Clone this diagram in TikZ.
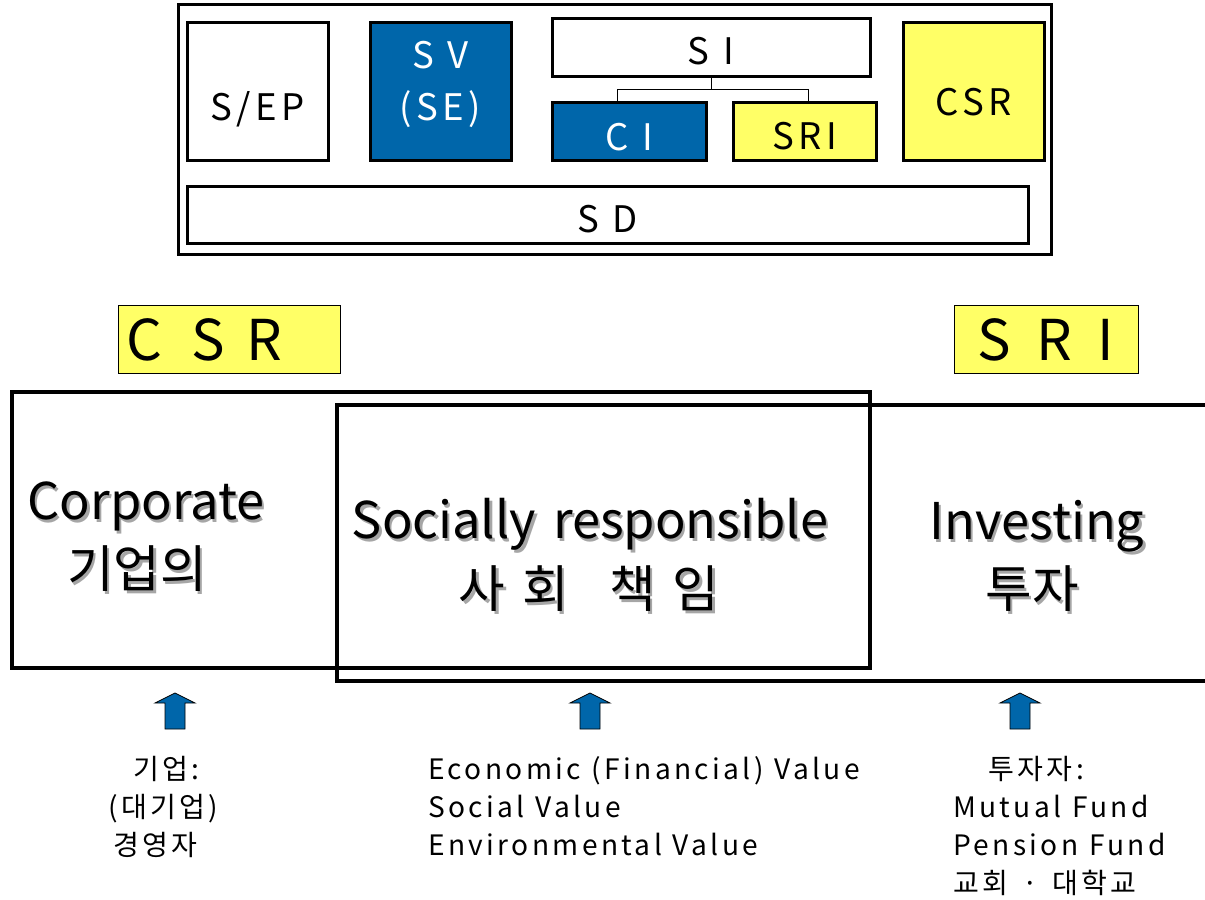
\documentclass[tikz,border=0pt]{standalone}
\usepackage{fontspec}
\setmainfont{Noto Sans CJK KR}[WordSpace=1.5]
\newfontfamily\widefont{Noto Sans CJK KR}[LetterSpace=12,WordSpace=1.1]
\newfontfamily\labelfont{Noto Sans CJK KR}[LetterSpace=4,WordSpace=1.7]
\definecolor{sblue}{RGB}{0,102,170}
\definecolor{syellow}{RGB}{255,255,102}
\begin{document}
\begin{tikzpicture}[
    sbox/.style={draw, line width=0.075cm, inner sep=0pt, align=center,
      text height=24.5pt, text depth=0pt,
      font=\widefont\fontsize{26}{37}\selectfont},
    labelbox/.style={draw, line width=0.025cm, fill=syellow,
      font=\labelfont\fontsize{40}{48}\selectfont},
    bigtext/.style={anchor=base, inner sep=0pt, font=\fontsize{36}{44}\selectfont},
    bigshade/.style={bigtext, text=black!35},
    smalltext/.style={inner sep=0pt, font=\widefont\fontsize{20}{27}\selectfont},
    uparrow/.style={fill=sblue, draw=black, line width=0.02cm}]
                \useasboundingbox (0,0) rectangle (30.125000,22.475000);
                
                % Drawing outer frame
                \draw [line width=0.075cm] (4.450000,16.100000) rectangle (26.275000,22.350000);%
                
                % Drawing top boxes
                \node [sbox, text height=40.4pt, minimum width=3.525cm, minimum height=3.45cm] (sep) at (6.437500,20.175000) {S/EP};%
                \node [sbox, fill=sblue, text=white, text height=41pt, minimum width=3.525cm, minimum height=3.45cm] (sv) at (11.012500,20.175000) {S V\\(SE)};%
                \node [sbox, text height=23.3pt, minimum width=7.95cm, minimum height=1.45cm] (si) at (17.775000,21.275000) {S I};%
                \node [sbox, fill=sblue, text=white, text height=26.2pt, minimum width=3.85cm, minimum height=1.45cm] (ci) at (15.725000,19.175000) {C I};%
                \node [sbox, fill=syellow, minimum width=3.575cm, minimum height=1.45cm] (sri) at (20.112500,19.175000) {SRI};%
                \node [sbox, fill=syellow, text height=33.3pt, minimum width=3.525cm, minimum height=3.45cm] (csr) at (24.337500,20.175000) {CSR};%
                \node [sbox, minimum width=21.025cm, minimum height=1.425cm] (sd) at (15.187500,17.087500) {S D};%
                
                % Drawing line S I to C I and SRI
                \draw [line width=0.025cm] (si.south) -- ++(0,-0.275000) coordinate (sij);%
                \draw [line width=0.025cm] ([xshift=-0.3cm]ci.north) |- (sij) -| ([xshift=0.0875cm]sri.north);%
                
                % Marking labels C S R and S R I
                \node [labelbox, minimum width=5.55cm, minimum height=1.7cm, text width=5.15cm, inner xsep=0.2cm, align=left] (csrlabel) at (5.725000,13.975000) {C\hspace{0.53em}S\hspace{0.38em}R};%
                \node [labelbox, minimum width=4.6cm, minimum height=1.7cm] (srilabel) at (26.150000,13.975000) {S R I};%
                
                % Drawing the two overlapping frames
                \draw [line width=0.09cm] (0.300000,5.775000) rectangle (21.750000,12.675000);%
                \draw [line width=0.09cm] (30.300000,12.350000) -- (8.425000,12.350000) -- (8.425000,5.450000) -- (30.300000,5.450000);%
                
                % Marking words with shadow
                \node [bigshade] (corps) at (3.710000,9.415000) {Corporate};%
                \node [bigtext] (corp) at (3.650000,9.475000) {Corporate};%
                \node [bigshade] (corpks) at (3.485000,7.715000) {기업의};%
                \node [bigtext] (corpk) at (3.425000,7.775000) {기업의};%
                \node [bigshade] (socs) at (14.810000,8.940000) {Socially responsible};%
                \node [bigtext] (soc) at (14.750000,9.000000) {Socially responsible};%
                \node [bigshade] (socks) at (14.785000,7.215000) {사 회\hspace{0.8em}책 임};%
                \node [bigtext] (sock) at (14.725000,7.275000) {사 회\hspace{0.8em}책 임};%
                \node [bigshade] (invs) at (25.985000,8.915000) {Investing};%
                \node [bigtext] (inv) at (25.925000,8.975000) {Investing};%
                \node [bigshade] (invks) at (25.860000,7.215000) {투자};%
                \node [bigtext] (invk) at (25.800000,7.275000) {투자};%
                
                % Drawing blue arrows
                \draw [uparrow] (4.125000,4.250000) -- ++(0,0.650000) -- ++(-0.250000,0) -- ++(0.500000,0.250000) -- ++(0.500000,-0.250000) -- ++(-0.250000,0) -- ++(0,-0.650000) -- cycle;%
                \draw [uparrow] (14.500000,4.250000) -- ++(0,0.650000) -- ++(-0.250000,0) -- ++(0.500000,0.250000) -- ++(0.500000,-0.250000) -- ++(-0.250000,0) -- ++(0,-0.650000) -- cycle;%
                \draw [uparrow] (25.250000,4.250000) -- ++(0,0.650000) -- ++(-0.250000,0) -- ++(0.500000,0.250000) -- ++(0.500000,-0.250000) -- ++(-0.250000,0) -- ++(0,-0.650000) -- cycle;%
                
                % Marking bottom texts
                \node [smalltext, align=left, anchor=north west] (firm) at (2.700000,3.575000) {\hspace*{0.625cm}기업:\\(대기업)\\\hspace*{0.125cm}경영자};%
                \node [smalltext, align=left, anchor=north west] (values) at (10.700000,3.575000) {Economic (Financial) Value\\Social Value\\Environmental Value};%
                \node [smalltext, align=left, anchor=north west] (investors) at (23.825000,3.575000) {\hspace*{0.875cm}투자자:\\Mutual Fund\\Pension Fund\\교회\hspace{0.5em}·\hspace{0.5em}대학교};%
\end{tikzpicture}
\end{document}
